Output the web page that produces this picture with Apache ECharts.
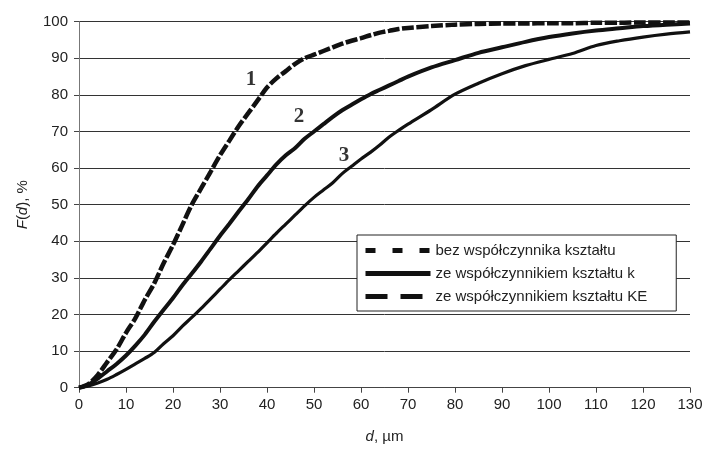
<!DOCTYPE html>
<html><head><meta charset="utf-8">
<script src="https://cdn.jsdelivr.net/npm/echarts@6/dist/echarts.min.js"></script>
<style>html,body{margin:0;padding:0;background:#fff}#c{width:707px;height:454px}</style>
</head><body><div id="c"></div>
<script>
const dValues = [0,2,4,6,8,10,12,14,16,18,20,22,24,26,28,30,32,34,36,38,40,42,44,46,48,50,52,54,56,58,60,62,64,66,68,70,75,80,85,90,95,100,105,110,115,120,125,130];
const curve1 = [0,1,3.5,7,10.5,15,19,24,28.5,34,39,44.5,50,54.5,59,63.5,67.5,71.5,75,78.5,82,84.5,86.5,88.5,90,91,92,93,94,94.8,95.5,96.3,97,97.5,98,98.3,98.8,99.2,99.4,99.5,99.5,99.6,99.6,99.7,99.7,99.8,99.8,99.8];
const curve2 = [0,0.8,2.5,4.5,6.5,8.8,11.5,14.5,18,21.3,24.5,28,31.2,34.5,38,41.5,44.8,48.2,51.5,55,58,61,63.5,65.5,68,70,72,74,75.8,77.3,78.8,80.2,81.4,82.6,83.8,85,87.5,89.5,91.5,93,94.5,95.8,96.8,97.6,98.2,98.8,99.2,99.5];
const curve3 = [0,0.5,1.3,2.3,3.6,5,6.5,8,9.6,12,14.2,16.8,19.2,21.7,24.3,26.9,29.5,32,34.5,37,39.6,42.2,44.7,47.2,49.7,52,54,56,58.5,60.5,62.5,64.3,66.3,68.5,70.3,72,76,80.2,83.2,85.8,88,89.7,91.3,93.5,94.8,95.8,96.6,97.2];
const seriesNames = ['bez współczynnika kształtu','ze współczynnikiem kształtu k','ze współczynnikiem kształtu KE'];
const curveLabels = [[36.6,84.1,'1'],[46.8,74.2,'2'],[56.4,63.3,'3']];
const yTicks = [0,10,20,30,40,50,60,70,80,90,100];
const xTicks = [0,10,20,30,40,50,60,70,80,90,100,110,120,130];

function pairs(ys){ return dValues.map((d,i)=>[d,ys[i]]); }
const FONT = '"Liberation Sans", Arial, sans-serif';
const hiddenSym = {color:'rgba(0,0,0,0)',borderWidth:0,opacity:0};
const chart = echarts.init(document.getElementById('c'), null, {renderer:'canvas'});
chart.setOption({
  animation:false,
  backgroundColor:'#fff',
  grid:{left:79,right:17,top:21.7,bottom:66.3,containLabel:false},
  xAxis:{type:'value',min:xTicks[0],max:xTicks[xTicks.length-1],interval:10,
    name:'{i|d}, µm',nameLocation:'middle',nameGap:42,
    nameTextStyle:{fontFamily:FONT,fontSize:15,color:'#222',rich:{i:{fontStyle:'italic',fontFamily:FONT,fontSize:15,color:'#222'}}},
    axisLine:{show:true,onZero:false,lineStyle:{color:'#444',width:1}},
    axisTick:{show:true,inside:false,length:5,lineStyle:{color:'#444'}},
    axisLabel:{margin:10,fontFamily:FONT,fontSize:15,color:'#222'},
    splitLine:{show:false}},
  yAxis:{type:'value',min:yTicks[0],max:yTicks[yTicks.length-1],interval:10,
    name:'{i|F}({i|d}), %',nameLocation:'middle',nameGap:49,nameRotate:90,
    nameTextStyle:{fontFamily:FONT,fontSize:15,color:'#222',rich:{i:{fontStyle:'italic',fontFamily:FONT,fontSize:15,color:'#222'}}},
    axisLine:{show:true,lineStyle:{color:'#777',width:1}},
    axisTick:{show:true,inside:false,length:5,lineStyle:{color:'#444'}},
    axisLabel:{margin:11,fontFamily:FONT,fontSize:15,color:'#222'},
    splitLine:{show:true,lineStyle:{color:'#333',width:1}}},
  legend:{orient:'vertical',left:357,top:235,padding:[8,29,7,6],itemGap:8,
    itemWidth:65,itemHeight:14,backgroundColor:'#fff',borderColor:'#222',borderWidth:1,
    textStyle:{fontFamily:FONT,fontSize:15,color:'#222'},
    data:[
      {name:seriesNames[0],itemStyle:hiddenSym,lineStyle:{type:[10,17],width:5,color:'#111'}},
      {name:seriesNames[1],itemStyle:hiddenSym,lineStyle:{type:'solid',width:5,color:'#111'}},
      {name:seriesNames[2],itemStyle:hiddenSym,lineStyle:{type:[22,13],width:5,color:'#111'}}
    ]},
  series:[
    {name:seriesNames[0],type:'line',data:pairs(curve1),symbol:'none',showSymbol:false,smooth:0.3,z:3,
      lineStyle:{color:'#111',width:4.5,type:[12,2.5]},itemStyle:{color:'#111'}},
    {name:seriesNames[1],type:'line',data:pairs(curve2),symbol:'none',showSymbol:false,smooth:0.3,z:3,
      lineStyle:{color:'#111',width:4,type:'solid'},itemStyle:{color:'#111'}},
    {name:seriesNames[2],type:'line',data:pairs(curve3),symbol:'none',showSymbol:false,smooth:0.3,z:3,
      lineStyle:{color:'#111',width:3.2,type:'solid'},itemStyle:{color:'#111'}},
    {name:'labels',type:'scatter',data:curveLabels,symbolSize:1,silent:true,z:5,
      itemStyle:{color:'rgba(0,0,0,0)'},
      label:{show:true,position:'inside',formatter:p=>p.data[2],fontFamily:'"Liberation Serif", "Times New Roman", serif',fontWeight:'bold',fontSize:21,color:'#000'}}
  ]
});
</script></body></html>
